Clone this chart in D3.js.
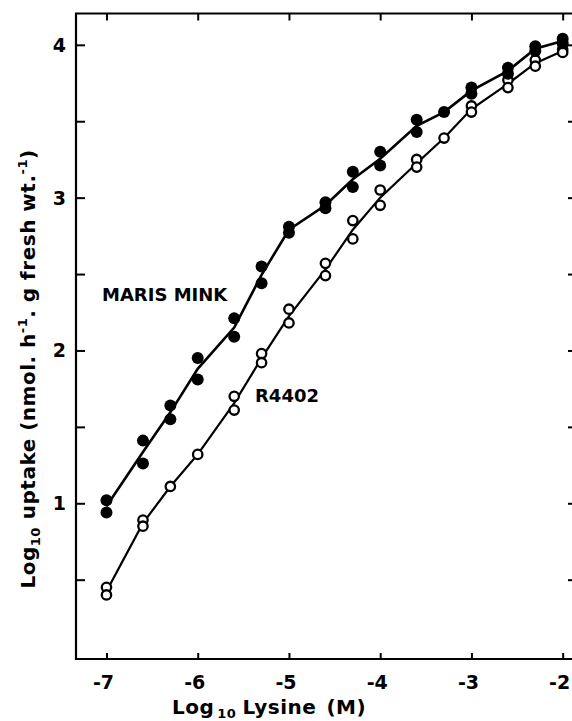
<!DOCTYPE html>
<html>
<head>
<meta charset="utf-8">
<script src="https://cdn.jsdelivr.net/npm/d3@7"></script>
<style>
  body { margin: 0; background: #fff; }
  text { font-family: "DejaVu Sans", sans-serif; font-weight: bold; fill: #000; }
</style>
</head>
<body>
<svg width="572" height="721"></svg>
<script>
// log10 lysine concentration (M)
var lysine = [-7, -6.6, -6.3, -6, -5.6, -5.3, -5, -4.6, -4.3, -4, -3.6, -3.3, -3, -2.6, -2.3, -2];
// Maris Mink, two replicates (filled circles)
var marisA = [1.02, 1.41, 1.64, 1.95, 2.21, 2.55, 2.81, 2.97, 3.17, 3.30, 3.51, 3.56, 3.72, 3.85, 3.99, 4.04];
var marisB = [0.94, 1.26, 1.55, 1.81, 2.09, 2.44, 2.77, 2.93, 3.07, 3.21, 3.43, null, 3.68, 3.81, 3.96, 4.01];
// R4402, two replicates (open circles)
var r4402A = [0.45, 0.89, 1.11, 1.32, 1.70, 1.98, 2.27, 2.57, 2.85, 3.05, 3.25, 3.39, 3.60, 3.77, 3.90, 3.97];
var r4402B = [0.40, 0.85, null, null, 1.61, 1.92, 2.18, 2.49, 2.73, 2.95, 3.20, null, 3.56, 3.72, 3.86, 3.95];
var xTicks = [-7, -6, -5, -4, -3, -2];
var yTicks = [1, 2, 3, 4];
var yMinor = [0.5, 1, 1.5, 2, 2.5, 3, 3.5, 4];

var svg = d3.select("svg");

var x = d3.scaleLinear().domain([-7.334, -1.832]).range([76, 578]);
var y = d3.scaleLinear().domain([-0.019, 4.205]).range([659, 13.5]);

// average of the replicates, for the drawn curve
function meanOf(a, b) {
  return lysine.map(function(d, i) {
    var v = [a[i], b[i]].filter(function(e) { return e != null; });
    return { x: d, y: d3.mean(v) };
  });
}

function pts(arr) {
  return lysine.map(function(d, i) { return { x: d, y: arr[i] }; })
    .filter(function(d) { return d.y != null; });
}

/*
 * frame and axes
 */
var frame = svg.append("g").attr("stroke", "#000").attr("stroke-width", 2.2).attr("fill", "none");
frame.append("path")
  .attr("d", "M" + x.range()[1] + "," + y.range()[1] + "H" + x.range()[0] + "V" + y.range()[0] + "H" + x.range()[1]);

// left: ticks inward, labels outside
var leftAx = svg.append("g").attr("transform", "translate(" + x.range()[0] + ",0)")
  .call(d3.axisRight(y).tickValues(yMinor).tickSize(9).tickFormat(""));
leftAx.select(".domain").remove();
leftAx.selectAll("line").attr("stroke-width", 2);

svg.append("g").selectAll("text").data(yTicks).enter().append("text")
  .attr("x", 66).attr("y", function(d) { return y(d) + 7; })
  .attr("text-anchor", "end").attr("font-size", 19)
  .text(function(d) { return d; });

// right ticks
var rightAx = svg.append("g").attr("transform", "translate(" + x.range()[1] + ",0)")
  .call(d3.axisLeft(y).tickValues(yMinor).tickSize(10).tickFormat(""));
rightAx.select(".domain").remove();
rightAx.selectAll("line").attr("stroke-width", 2);

// bottom and top ticks
var bottomAx = svg.append("g").attr("transform", "translate(0," + y.range()[0] + ")")
  .call(d3.axisTop(x).tickValues(xTicks).tickSize(6).tickFormat(""));
bottomAx.select(".domain").remove();
bottomAx.selectAll("line").attr("stroke-width", 2);

var topAx = svg.append("g").attr("transform", "translate(0," + y.range()[1] + ")")
  .call(d3.axisBottom(x).tickValues(xTicks).tickSize(7).tickFormat(""));
topAx.select(".domain").remove();
topAx.selectAll("line").attr("stroke-width", 2);

svg.append("g").selectAll("text").data(xTicks).enter().append("text")
  .attr("x", function(d) { return x(d) - 3; }).attr("y", 689)
  .attr("text-anchor", "middle").attr("font-size", 19)
  .text(function(d) { return "-" + Math.abs(d); });

/*
 * curves and points
 */
var line = d3.line().x(function(d) { return x(d.x); }).y(function(d) { return y(d.y); });

svg.append("path").datum(meanOf(marisA, marisB))
  .attr("d", line).attr("fill", "none").attr("stroke", "#000").attr("stroke-width", 2.6);
svg.append("path").datum(meanOf(r4402A, r4402B))
  .attr("d", line).attr("fill", "none").attr("stroke", "#000").attr("stroke-width", 2.2);

svg.append("g").selectAll("circle").data(pts(r4402A).concat(pts(r4402B))).enter()
  .append("circle")
  .attr("cx", function(d) { return x(d.x); }).attr("cy", function(d) { return y(d.y); })
  .attr("r", 4.7).attr("fill", "#fff").attr("stroke", "#000").attr("stroke-width", 2.3);

svg.append("g").selectAll("circle").data(pts(marisA).concat(pts(marisB))).enter()
  .append("circle")
  .attr("cx", function(d) { return x(d.x); }).attr("cy", function(d) { return y(d.y); })
  .attr("r", 6).attr("fill", "#000");

/*
 * labels
 */
svg.append("text").attr("x", 102).attr("y", 301).attr("font-size", 18).text("MARIS MINK");
svg.append("text").attr("x", 255).attr("y", 402).attr("font-size", 18).text("R4402");

var xt = svg.append("text").attr("x", 172).attr("y", 714).attr("font-size", 20)
  .attr("letter-spacing", 0.5);
xt.append("tspan").text("Log");
xt.append("tspan").attr("dy", 4).attr("font-size", 13).attr("dx", 3).text("10");
xt.append("tspan").attr("dy", -4).attr("dx", 6).text("Lysine");
xt.append("tspan").attr("dx", 10).text("(M)");

var yt = svg.append("text").attr("transform", "translate(35,369) rotate(-90)")
  .attr("text-anchor", "middle").attr("font-size", 20).attr("letter-spacing", 0.5);
yt.append("tspan").text("Log");
yt.append("tspan").attr("dy", 5).attr("font-size", 13).text("10");
yt.append("tspan").attr("dy", -5).attr("dx", 8).text("uptake (nmol. h");
yt.append("tspan").attr("dy", -8).attr("font-size", 13).text("-1");
yt.append("tspan").attr("dy", 8).text(". g fresh wt.");
yt.append("tspan").attr("dy", -8).attr("font-size", 13).text("-1");
yt.append("tspan").attr("dy", 8).text(")");
</script>
</body>
</html>
